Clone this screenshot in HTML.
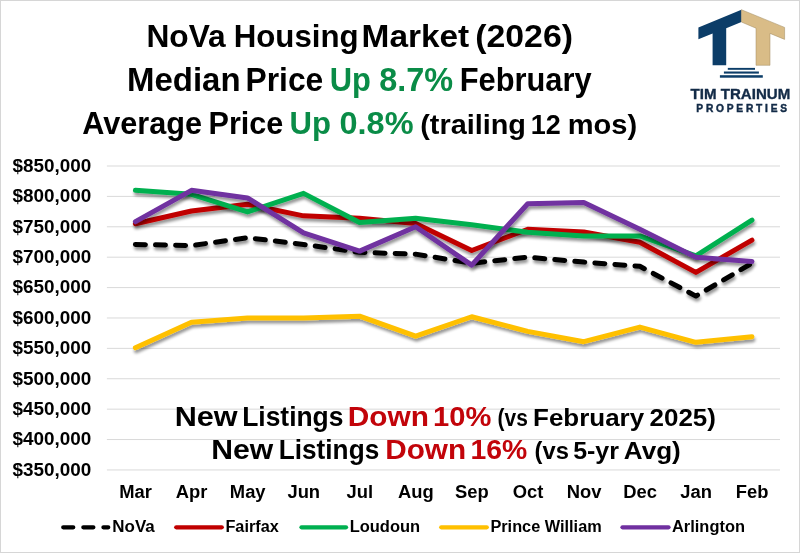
<!DOCTYPE html>
<html><head><meta charset="utf-8"><style>
html,body{margin:0;padding:0;background:#fff;}
body{width:800px;height:553px;overflow:hidden;position:relative;}
svg{position:absolute;left:0;top:0;will-change:transform;}
.ax{font-family:"Liberation Sans",sans-serif;font-weight:bold;fill:#000;}
.lg{font-family:"Liberation Sans",sans-serif;font-weight:bold;}
.tt{font-family:"Liberation Sans",sans-serif;font-weight:bold;}
</style></head><body>
<svg width="800" height="553" viewBox="0 0 800 553">
<defs><filter id="sh" x="-5%" y="-20%" width="110%" height="150%"><feGaussianBlur in="SourceAlpha" stdDeviation="1.7"/><feOffset dx="0.5" dy="2.7" result="b"/><feComponentTransfer><feFuncA type="linear" slope="0.42"/></feComponentTransfer><feMerge><feMergeNode/><feMergeNode in="SourceGraphic"/></feMerge></filter></defs>
<rect x="0.5" y="0.5" width="799" height="552" fill="#fff" stroke="#d6d6d6" stroke-width="1"/>
<line x1="106.9" y1="166.00" x2="780" y2="166.00" stroke="#d9d9d9" stroke-width="1"/>
<line x1="106.9" y1="196.40" x2="780" y2="196.40" stroke="#d9d9d9" stroke-width="1"/>
<line x1="106.9" y1="226.79" x2="780" y2="226.79" stroke="#d9d9d9" stroke-width="1"/>
<line x1="106.9" y1="257.19" x2="780" y2="257.19" stroke="#d9d9d9" stroke-width="1"/>
<line x1="106.9" y1="287.58" x2="780" y2="287.58" stroke="#d9d9d9" stroke-width="1"/>
<line x1="106.9" y1="317.98" x2="780" y2="317.98" stroke="#d9d9d9" stroke-width="1"/>
<line x1="106.9" y1="348.37" x2="780" y2="348.37" stroke="#d9d9d9" stroke-width="1"/>
<line x1="106.9" y1="378.76" x2="780" y2="378.76" stroke="#d9d9d9" stroke-width="1"/>
<line x1="106.9" y1="409.16" x2="780" y2="409.16" stroke="#d9d9d9" stroke-width="1"/>
<line x1="106.9" y1="439.56" x2="780" y2="439.56" stroke="#d9d9d9" stroke-width="1"/>
<line x1="106.9" y1="469.95" x2="780" y2="469.95" stroke="#d9d9d9" stroke-width="1"/>
<text transform="translate(91.30,171.90) scale(1.0500,1)" text-anchor="end" class="ax" font-size="18">$850,000</text>
<text transform="translate(91.30,202.30) scale(1.0500,1)" text-anchor="end" class="ax" font-size="18">$800,000</text>
<text transform="translate(91.30,232.69) scale(1.0500,1)" text-anchor="end" class="ax" font-size="18">$750,000</text>
<text transform="translate(91.30,263.08) scale(1.0500,1)" text-anchor="end" class="ax" font-size="18">$700,000</text>
<text transform="translate(91.30,293.48) scale(1.0500,1)" text-anchor="end" class="ax" font-size="18">$650,000</text>
<text transform="translate(91.30,323.88) scale(1.0500,1)" text-anchor="end" class="ax" font-size="18">$600,000</text>
<text transform="translate(91.30,354.27) scale(1.0500,1)" text-anchor="end" class="ax" font-size="18">$550,000</text>
<text transform="translate(91.30,384.66) scale(1.0500,1)" text-anchor="end" class="ax" font-size="18">$500,000</text>
<text transform="translate(91.30,415.06) scale(1.0500,1)" text-anchor="end" class="ax" font-size="18">$450,000</text>
<text transform="translate(91.30,445.45) scale(1.0500,1)" text-anchor="end" class="ax" font-size="18">$400,000</text>
<text transform="translate(91.30,475.85) scale(1.0500,1)" text-anchor="end" class="ax" font-size="18">$350,000</text>
<text transform="translate(135.60,497.7) scale(1.0500,1)" text-anchor="middle" class="ax" font-size="17.5">Mar</text>
<text transform="translate(191.65,497.7) scale(1.0500,1)" text-anchor="middle" class="ax" font-size="17.5">Apr</text>
<text transform="translate(247.70,497.7) scale(1.0500,1)" text-anchor="middle" class="ax" font-size="17.5">May</text>
<text transform="translate(303.75,497.7) scale(1.0500,1)" text-anchor="middle" class="ax" font-size="17.5">Jun</text>
<text transform="translate(359.80,497.7) scale(1.0500,1)" text-anchor="middle" class="ax" font-size="17.5">Jul</text>
<text transform="translate(415.85,497.7) scale(1.0500,1)" text-anchor="middle" class="ax" font-size="17.5">Aug</text>
<text transform="translate(471.90,497.7) scale(1.0500,1)" text-anchor="middle" class="ax" font-size="17.5">Sep</text>
<text transform="translate(527.95,497.7) scale(1.0500,1)" text-anchor="middle" class="ax" font-size="17.5">Oct</text>
<text transform="translate(584.00,497.7) scale(1.0500,1)" text-anchor="middle" class="ax" font-size="17.5">Nov</text>
<text transform="translate(640.05,497.7) scale(1.0500,1)" text-anchor="middle" class="ax" font-size="17.5">Dec</text>
<text transform="translate(696.10,497.7) scale(1.0500,1)" text-anchor="middle" class="ax" font-size="17.5">Jan</text>
<text transform="translate(752.15,497.7) scale(1.0500,1)" text-anchor="middle" class="ax" font-size="17.5">Feb</text>
<polyline points="135.40,347.76 191.45,322.23 247.50,317.98 303.55,317.98 359.60,316.15 415.65,336.21 471.70,316.76 527.75,331.35 583.80,341.68 639.85,327.09 695.90,342.29 751.95,336.82" fill="none" stroke="#FFC000" stroke-width="5.0" stroke-linejoin="round" stroke-linecap="round" filter="url(#sh)"/>
<polyline points="135.40,244.42 191.45,245.63 247.50,237.73 303.55,244.42 359.60,252.32 415.65,254.15 471.70,263.26 527.75,257.19 583.80,262.05 639.85,266.30 695.90,296.09 751.95,263.26" fill="none" stroke="#000000" stroke-width="5.0" stroke-linejoin="round" stroke-linecap="round" stroke-dasharray="10.0 10.1" filter="url(#sh)"/>
<polyline points="135.40,223.75 191.45,210.98 247.50,204.30 303.55,215.85 359.60,218.28 415.65,223.45 471.70,250.50 527.75,229.22 583.80,231.96 639.85,242.29 695.90,272.38 751.95,240.16" fill="none" stroke="#C00000" stroke-width="5.0" stroke-linejoin="round" stroke-linecap="round" filter="url(#sh)"/>
<polyline points="135.40,190.32 191.45,194.27 247.50,211.90 303.55,193.36 359.60,222.53 415.65,218.28 471.70,224.66 527.75,232.26 583.80,235.91 639.85,235.91 695.90,255.97 751.95,220.10" fill="none" stroke="#00B050" stroke-width="5.0" stroke-linejoin="round" stroke-linecap="round" filter="url(#sh)"/>
<polyline points="135.40,221.62 191.45,190.32 247.50,197.91 303.55,232.87 359.60,251.11 415.65,226.79 471.70,265.09 527.75,203.69 583.80,202.47 639.85,229.22 695.90,257.19 751.95,261.44" fill="none" stroke="#7030A0" stroke-width="5.0" stroke-linejoin="round" stroke-linecap="round" filter="url(#sh)"/>
<line x1="63.25" y1="527.3" x2="108.25" y2="527.3" stroke="#000" stroke-width="4.3" stroke-linecap="round" stroke-dasharray="10.0 10.1"/>
<line x1="176.25" y1="527.3" x2="221.75" y2="527.3" stroke="#C00000" stroke-width="4.3" stroke-linecap="round"/>
<line x1="301.5" y1="527.3" x2="346" y2="527.3" stroke="#00B050" stroke-width="4.3" stroke-linecap="round"/>
<line x1="441.25" y1="527.3" x2="486.75" y2="527.3" stroke="#FFC000" stroke-width="4.3" stroke-linecap="round"/>
<line x1="622.5" y1="527.3" x2="668.5" y2="527.3" stroke="#7030A0" stroke-width="4.3" stroke-linecap="round"/>
<text x="146.44" y="47.4" font-size="31.3" fill="#000" textLength="79.25" lengthAdjust="spacingAndGlyphs" class="tt">NoVa</text>
<text x="233.73" y="47.4" font-size="31.3" fill="#000" textLength="124.91" lengthAdjust="spacingAndGlyphs" class="tt">Housing</text>
<text x="361.56" y="47.4" font-size="31.3" fill="#000" textLength="107.70" lengthAdjust="spacingAndGlyphs" class="tt">Market</text>
<text x="475.22" y="47.4" font-size="31.3" fill="#000" textLength="97.81" lengthAdjust="spacingAndGlyphs" class="tt">(2026)</text>
<text x="127.00" y="91.0" font-size="32.3" fill="#000" textLength="113.58" lengthAdjust="spacingAndGlyphs" class="tt">Median</text>
<text x="245.54" y="91.0" font-size="32.3" fill="#000" textLength="77.77" lengthAdjust="spacingAndGlyphs" class="tt">Price</text>
<text x="329.82" y="91.0" font-size="32.3" fill="#0A8C47" textLength="41.18" lengthAdjust="spacingAndGlyphs" class="tt">Up</text>
<text x="379.31" y="91.0" font-size="32.3" fill="#0A8C47" textLength="73.89" lengthAdjust="spacingAndGlyphs" class="tt">8.7%</text>
<text x="459.78" y="91.0" font-size="32.3" fill="#000" textLength="131.86" lengthAdjust="spacingAndGlyphs" class="tt">February</text>
<text x="82.16" y="133.9" font-size="31.3" fill="#000" textLength="119.89" lengthAdjust="spacingAndGlyphs" class="tt">Average</text>
<text x="208.50" y="133.9" font-size="31.3" fill="#000" textLength="74.86" lengthAdjust="spacingAndGlyphs" class="tt">Price</text>
<text x="289.51" y="133.9" font-size="31.3" fill="#0A8C47" textLength="41.49" lengthAdjust="spacingAndGlyphs" class="tt">Up</text>
<text x="339.52" y="133.9" font-size="31.3" fill="#0A8C47" textLength="74.02" lengthAdjust="spacingAndGlyphs" class="tt">0.8%</text>
<text x="420.19" y="133.6" font-size="28.2" fill="#000" textLength="105.81" lengthAdjust="spacingAndGlyphs" class="tt">(trailing</text>
<text x="530.78" y="133.6" font-size="28.2" fill="#000" textLength="29.97" lengthAdjust="spacingAndGlyphs" class="tt">12</text>
<text x="567.66" y="133.6" font-size="28.2" fill="#000" textLength="69.46" lengthAdjust="spacingAndGlyphs" class="tt">mos)</text>
<text x="174.68" y="425.9" font-size="27.8" fill="#000" textLength="62.92" lengthAdjust="spacingAndGlyphs" class="tt">New</text>
<text x="242.17" y="425.9" font-size="27.8" fill="#000" textLength="101.31" lengthAdjust="spacingAndGlyphs" class="tt">Listings</text>
<text x="347.68" y="425.9" font-size="27.8" fill="#C2040A" textLength="81.18" lengthAdjust="spacingAndGlyphs" class="tt">Down</text>
<text x="433.07" y="425.9" font-size="27.8" fill="#C2040A" textLength="58.32" lengthAdjust="spacingAndGlyphs" class="tt">10%</text>
<text x="497.61" y="426.0" font-size="24.4" fill="#000" textLength="30.25" lengthAdjust="spacingAndGlyphs" class="tt">(vs</text>
<text x="533.08" y="426.0" font-size="24.4" fill="#000" textLength="111.00" lengthAdjust="spacingAndGlyphs" class="tt">February</text>
<text x="649.50" y="426.0" font-size="24.4" fill="#000" textLength="66.49" lengthAdjust="spacingAndGlyphs" class="tt">2025)</text>
<text x="211.31" y="459.3" font-size="27.8" fill="#000" textLength="61.97" lengthAdjust="spacingAndGlyphs" class="tt">New</text>
<text x="278.77" y="459.3" font-size="27.8" fill="#000" textLength="100.44" lengthAdjust="spacingAndGlyphs" class="tt">Listings</text>
<text x="385.18" y="459.3" font-size="27.8" fill="#C2040A" textLength="80.88" lengthAdjust="spacingAndGlyphs" class="tt">Down</text>
<text x="470.42" y="459.3" font-size="27.8" fill="#C2040A" textLength="56.80" lengthAdjust="spacingAndGlyphs" class="tt">16%</text>
<text x="534.58" y="459.3" font-size="24.4" fill="#000" textLength="34.30" lengthAdjust="spacingAndGlyphs" class="tt">(vs</text>
<text x="573.15" y="459.3" font-size="24.4" fill="#000" textLength="45.85" lengthAdjust="spacingAndGlyphs" class="tt">5-yr</text>
<text x="623.82" y="459.3" font-size="24.4" fill="#000" textLength="56.94" lengthAdjust="spacingAndGlyphs" class="tt">Avg)</text>
<text x="112.36" y="532.2" font-size="15.6" fill="#000" textLength="42.39" lengthAdjust="spacingAndGlyphs" class="lg">NoVa</text>
<text x="225.44" y="532.2" font-size="15.6" fill="#000" textLength="53.30" lengthAdjust="spacingAndGlyphs" class="lg">Fairfax</text>
<text x="349.70" y="532.2" font-size="15.6" fill="#000" textLength="70.44" lengthAdjust="spacingAndGlyphs" class="lg">Loudoun</text>
<text x="490.42" y="532.2" font-size="15.6" fill="#000" textLength="111.30" lengthAdjust="spacingAndGlyphs" class="lg">Prince William</text>
<text x="672.03" y="532.2" font-size="15.6" fill="#000" textLength="72.93" lengthAdjust="spacingAndGlyphs" class="lg">Arlington</text>
<text x="690.58" y="99.2" font-size="14.6" fill="#132b47" stroke="#132b47" stroke-width="0.35" textLength="99.67" lengthAdjust="spacingAndGlyphs" class="tt">TIM TRAINUM</text>
<text x="696.30" y="112.0" font-size="10.2" fill="#132b47" stroke="#132b47" stroke-width="0.45" textLength="90.84" lengthAdjust="spacing" class="tt">PROPERTIES</text>

<polygon points="698.4,27.4 741.4,9.7 741.4,22.0 726.2,28.2 726.2,65.3 712.6,65.3 712.6,33.4 698.4,39.2" fill="#0C3D68"/>
<polygon points="741.4,9.7 784.6,27.4 784.6,39.4 770.0,33.4 770.0,65.3 756.0,65.3 756.0,28.2 741.4,22.0" fill="#D9BC87" stroke="#a08a60" stroke-width="0.5"/>
<rect x="727.8" y="67.9" width="27.2" height="1.9" fill="#0C3D68"/>
<rect x="723.9" y="71.5" width="35" height="2.1" fill="#0C3D68"/>
<rect x="719.9" y="75.2" width="42.9" height="2.5" fill="#0C3D68"/>

</svg>
</body></html>
